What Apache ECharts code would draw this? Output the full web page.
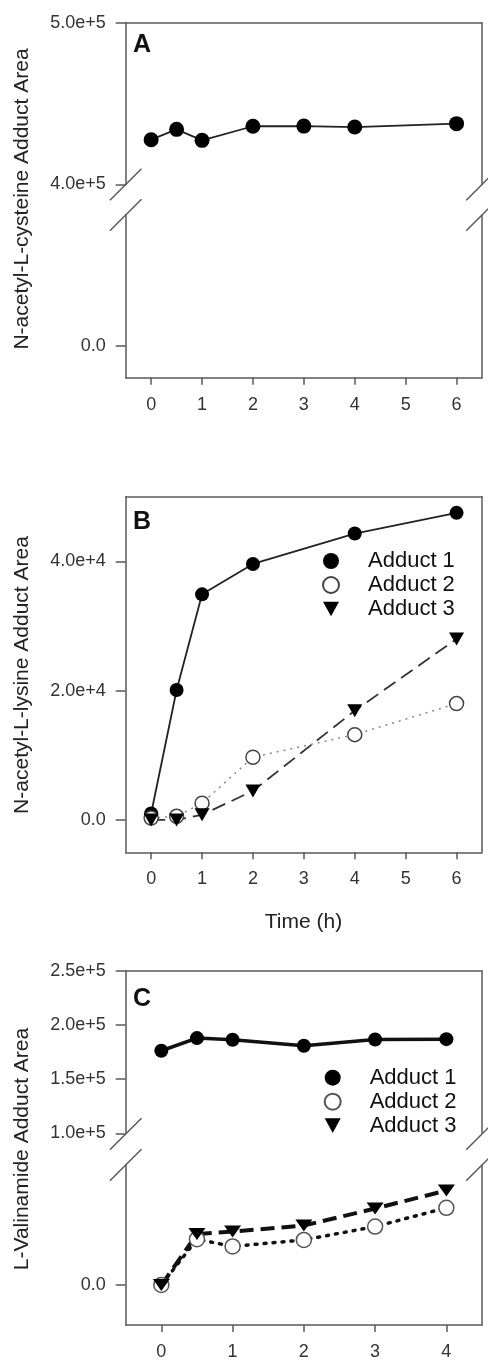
<!DOCTYPE html>
<html>
<head>
<meta charset="utf-8">
<script src="https://cdn.jsdelivr.net/npm/echarts@6/dist/echarts.min.js"></script>
<style>
  html, body { margin: 0; padding: 0; background: #fff; }
  .panel { position: absolute; left: 0; width: 488px; }
  #panelA { top: 0; height: 440px; }
  #panelB { top: 440px; height: 500px; }
  #panelC { top: 940px; height: 421px; }
</style>
</head>
<body>
<div class="panel" id="panelA"></div>
<div class="panel" id="panelB"></div>
<div class="panel" id="panelC"></div>
<script>
// ---- data ----
// A: N-acetyl-L-cysteine
const hoursA = [0, 0.5, 1, 2, 3, 4, 6];
const cysteineArea = [427700, 434100, 427300, 436000, 436100, 435500, 437600];
const xTicksA = [0, 1, 2, 3, 4, 5, 6];
const yTicksAUpper = [400000, 500000];
const yTicksALower = [0];

// B: N-acetyl-L-lysine
const hoursB = [0, 0.5, 1, 2, 4, 6];
const lysineAdduct1 = [1000, 20100, 34900, 39600, 44300, 47500];
const lysineAdduct2 = [300, 560, 2600, 9700, 13200, 18000];
const lysineAdduct3 = [0, 0, 800, 4500, 16900, 28000];
const xTicksB = [0, 1, 2, 3, 4, 5, 6];
const yTicksB = [0, 20000, 40000];

// C: L-Valinamide
const hoursC = [0, 0.5, 1, 2, 3, 4];
const valinAdduct1 = [176300, 188000, 186400, 180900, 186700, 187000];
const valinAdduct2 = [0, 4580, 3860, 4510, 5840, 7720];
const valinAdduct3 = [0, 5100, 5350, 5950, 7650, 9450];
const xTicksC = [0, 1, 2, 3, 4];
const yTicksCUpper = [100000, 150000, 200000, 250000];
const yTicksCLower = [0];

const seriesNames = ['Adduct 1', 'Adduct 2', 'Adduct 3'];

// ---- styling helpers ----
const FONT = 'Liberation Sans, Arial, sans-serif';
const FRAME = '#5a5a5a';
const LEFT = 125.7, RIGHT = 6;

function pairs(xs, ys) {
    return xs.map((x, i) => [x, ys[i]]);
}
function sciLabel(v) {
    if (v === 0) return '0.0';
    return v.toExponential(1);
}
function xAxisBottom(grid, min, max, ticks) {
    return {
        type: 'value', gridIndex: grid, position: 'bottom', min: min, max: max,
        axisLine: { onZero: false, lineStyle: { color: FRAME, width: 1.5 } },
        axisTick: { length: 7, customValues: ticks, lineStyle: { color: FRAME, width: 1.5 } },
        axisLabel: { customValues: ticks, margin: 18, fontSize: 18, fontFamily: FONT, color: '#333' },
        splitLine: { show: false }
    };
}
function xAxisTop(grid, min, max) {
    return {
        type: 'value', gridIndex: grid, position: 'top', min: min, max: max,
        axisLine: { onZero: false, lineStyle: { color: FRAME, width: 1.5 } },
        axisTick: { show: false }, axisLabel: { show: false }, splitLine: { show: false }
    };
}
function yAxisLeft(grid, min, max, ticks) {
    return {
        type: 'value', gridIndex: grid, position: 'left', min: min, max: max,
        axisLine: { show: true, onZero: false, lineStyle: { color: FRAME, width: 1.5 } },
        axisTick: { show: true, length: 10, customValues: ticks, lineStyle: { color: FRAME, width: 1.5 } },
        axisLabel: { customValues: ticks, margin: 20, fontSize: 18, fontFamily: FONT, color: '#333', formatter: sciLabel },
        splitLine: { show: false }
    };
}
function yAxisRight(grid, min, max) {
    return {
        type: 'value', gridIndex: grid, position: 'right', min: min, max: max,
        axisLine: { show: true, onZero: false, lineStyle: { color: FRAME, width: 1.5 } },
        axisTick: { show: false }, axisLabel: { show: false }, splitLine: { show: false }
    };
}
// the // marks where the y axis is broken
function breakMarks(yUp, yLow) {
    const d = 15.8, out = [];
    [LEFT, 488 - RIGHT].forEach(x => {
        [yUp, yLow].forEach(y => {
            out.push({
                type: 'line', silent: true,
                shape: { x1: x - d, y1: y + d, x2: x + d, y2: y - d },
                style: { stroke: FRAME, lineWidth: 1.5 }
            });
        });
    });
    return out;
}
function axisTitle(text, cy) {
    return {
        type: 'text', x: 22, y: cy, rotation: Math.PI / 2,
        style: { text: text, font: '21px ' + FONT, fill: '#222', align: 'center', verticalAlign: 'middle' }
    };
}
function panelLetter(text, cy) {
    return {
        type: 'text', x: 133, y: cy,
        style: { text: text, font: 'bold 25px ' + FONT, fill: '#111', align: 'left', verticalAlign: 'middle' }
    };
}
function legendAt(top, left) {
    return {
        orient: 'vertical', left: left, top: top, padding: 0,
        itemWidth: 16, itemHeight: 16, itemGap: 0,
        selectedMode: false,
        textStyle: { fontSize: 22, fontFamily: FONT, color: '#111', lineHeight: 24, padding: [0, 0, 0, 24] },
        data: [
            { name: seriesNames[0], icon: 'circle' },
            { name: seriesNames[1], icon: 'circle' },
            { name: seriesNames[2], icon: 'path://M0,0L12,0L6,11Z' }
        ]
    };
}

// ---- panel A ----
const chartA = echarts.init(document.getElementById('panelA'));
chartA.setOption({
    animation: false,
    grid: [
        { left: LEFT, right: RIGHT, top: 22.7, height: 161.8 },
        { left: LEFT, right: RIGHT, top: 215, height: 162.7 }
    ],
    xAxis: [xAxisTop(0, -0.5, 6.5), xAxisBottom(1, -0.5, 6.5, xTicksA)],
    yAxis: [
        yAxisLeft(0, 400000, 500000, yTicksAUpper), yAxisRight(0, 400000, 500000),
        yAxisLeft(1, -20000, 82000, yTicksALower), yAxisRight(1, -20000, 82000)
    ],
    series: [{
        type: 'line', xAxisIndex: 0, yAxisIndex: 0,
        data: pairs(hoursA, cysteineArea),
        symbol: 'circle', symbolSize: 15,
        itemStyle: { color: '#000' },
        lineStyle: { color: '#222', width: 1.8 }
    }],
    graphic: breakMarks(184.5, 215).concat([
        axisTitle('N-acetyl-L-cysteine Adduct Area', 199),
        panelLetter('A', 45)
    ])
});

// ---- panel B ----
const chartB = echarts.init(document.getElementById('panelB'));
chartB.setOption({
    animation: false,
    grid: [{ left: LEFT, right: RIGHT, top: 56.7, height: 355.6 }],
    xAxis: [xAxisBottom(0, -0.5, 6.5, xTicksB), xAxisTop(0, -0.5, 6.5)],
    yAxis: [yAxisLeft(0, -5000, 50000, yTicksB), yAxisRight(0, -5000, 50000)],
    legend: legendAt(109, 322),
    series: [{
        name: seriesNames[0], type: 'line', xAxisIndex: 0, yAxisIndex: 0,
        data: pairs(hoursB, lysineAdduct1),
        symbol: 'circle', symbolSize: 14,
        itemStyle: { color: '#000' },
        lineStyle: { color: '#222', width: 1.8 }
    }, {
        name: seriesNames[1], type: 'line', xAxisIndex: 0, yAxisIndex: 0,
        data: pairs(hoursB, lysineAdduct2),
        symbol: 'circle', symbolSize: 14,
        itemStyle: { color: '#fff', borderColor: '#444', borderWidth: 1.5 },
        lineStyle: { color: '#888', width: 1.5, type: [2, 5] }
    }, {
        name: seriesNames[2], type: 'line', xAxisIndex: 0, yAxisIndex: 0,
        data: pairs(hoursB, lysineAdduct3),
        symbol: 'triangle', symbolRotate: 180, symbolSize: [15, 13],
        itemStyle: { color: '#000' },
        lineStyle: { color: '#333', width: 1.8, type: [14, 7] }
    }],
    graphic: [
        axisTitle('N-acetyl-L-lysine Adduct Area', 235),
        panelLetter('B', 82),
        {
            type: 'text', x: 303.5, y: 482,
            style: { text: 'Time (h)', font: '21px ' + FONT, fill: '#222', align: 'center', verticalAlign: 'middle' }
        }
    ]
});

// ---- panel C ----
const chartC = echarts.init(document.getElementById('panelC'));
chartC.setOption({
    animation: false,
    grid: [
        { left: LEFT, right: RIGHT, top: 31, height: 162.3 },
        { left: LEFT, right: RIGHT, top: 225, height: 161.7 }
    ],
    xAxis: [xAxisTop(0, -0.5, 4.5), xAxisBottom(1, -0.5, 4.5, xTicksC)],
    yAxis: [
        yAxisLeft(0, 100000, 250000, yTicksCUpper), yAxisRight(0, 100000, 250000),
        yAxisLeft(1, -4000, 12000, yTicksCLower), yAxisRight(1, -4000, 12000)
    ],
    legend: legendAt(125.7, 323.7),
    series: [{
        name: seriesNames[0], type: 'line', xAxisIndex: 0, yAxisIndex: 0,
        data: pairs(hoursC, valinAdduct1),
        symbol: 'circle', symbolSize: 14,
        itemStyle: { color: '#000' },
        lineStyle: { color: '#111', width: 3.5 }
    }, {
        name: seriesNames[1], type: 'line', xAxisIndex: 1, yAxisIndex: 2,
        data: pairs(hoursC, valinAdduct2),
        symbol: 'circle', symbolSize: 15,
        itemStyle: { color: '#fff', borderColor: '#555', borderWidth: 1.5 },
        lineStyle: { color: '#111', width: 3.5, type: [2, 7], cap: 'round' }
    }, {
        name: seriesNames[2], type: 'line', xAxisIndex: 1, yAxisIndex: 2,
        data: pairs(hoursC, valinAdduct3),
        symbol: 'triangle', symbolRotate: 180, symbolSize: [17, 12],
        itemStyle: { color: '#000' },
        lineStyle: { color: '#111', width: 4, type: [14, 7] }
    }],
    graphic: breakMarks(194, 225).concat([
        axisTitle('L-Valinamide Adduct Area', 209),
        panelLetter('C', 59)
    ])
});
</script>
</body>
</html>
